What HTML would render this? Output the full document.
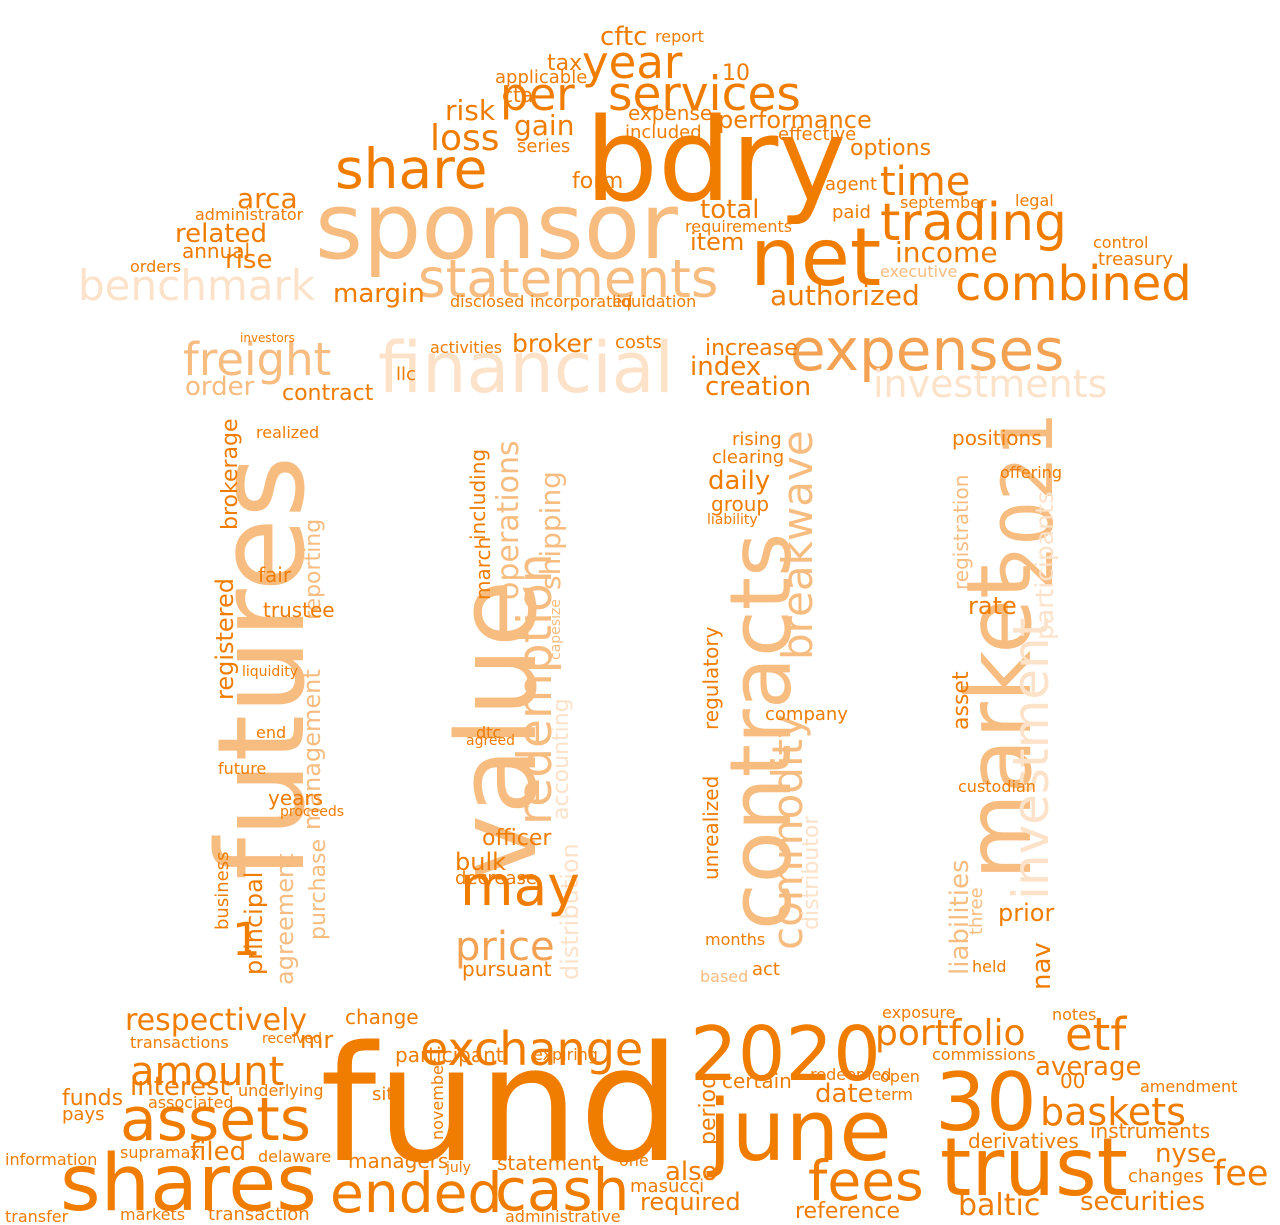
<!DOCTYPE html>
<html><head><meta charset="utf-8"><style>
html,body{margin:0;padding:0;background:#fff;}
svg{display:block;}
text{font-family:"DejaVu Sans","Liberation Sans",sans-serif;}
</style></head><body>
<svg id="cloud" width="1280" height="1225" viewBox="0 0 1280 1225" xmlns="http://www.w3.org/2000/svg"></svg>
<script>
const D="#f07c00",M="#f3a254",L="#f7bc80",V="#fde2ca";
// word, x, baseline y, font size, color, rotated(1 = vertical bottom-up)
const words=[
["bdry",585,200,115,D,0],["sponsor",315,258,92,L,0],["net",750,285,80,D,0],["statements",418,297,53,L,0],
["benchmark",78,300,42,V,0],["combined",955,300,48,D,0],["trading",880,240,52,D,0],["share",335,188,55,D,0],
["services",608,110,47,D,0],["per",500,110,45,D,0],["year",582,78,45,D,0],["loss",430,150,36,D,0],
["time",880,195,40,D,0],["expenses",790,370,58,M,0],["financial",378,392,70,V,0],["freight",183,375,45,L,0],
["investments",873,397,38,V,0],["authorized",770,305,28,D,0],["income",895,262,28,D,0],["performance",718,128,24,D,0],
["total",700,218,26,D,0],["related",175,242,26,D,0],["arca",237,208,28,D,0],["rise",225,268,26,D,0],
["margin",333,302,26,D,0],["risk",445,120,28,D,0],["gain",514,135,28,D,0],["broker",512,352,25,D,0],
["index",690,375,26,D,0],["creation",705,395,26,D,0],["order",185,395,26,L,0],["contract",282,400,22,D,0],
["increase",705,355,22,D,0],["cftc",600,45,26,D,0],["tax",547,70,22,D,0],["10",722,80,22,D,0],
["expense",628,120,20,D,0],["options",850,155,22,D,0],["agent",825,190,18,D,0],["item",690,250,24,D,0],
["annual",182,258,20,D,0],["orders",130,272,16,D,0],["administrator",195,220,16,D,0],["treasury",1098,265,18,D,0],
["executive",880,277,16,L,0],["liquidation",612,307,16,D,0],["incorporated",530,307,16,D,0],["disclosed",450,307,16,D,0],
["form",572,188,22,D,0],["series",517,152,18,D,0],["cta",502,102,20,D,0],["applicable",495,83,18,D,0],
["report",655,42,16,D,0],["effective",778,140,18,D,0],["included",625,138,18,D,0],["paid",832,218,18,D,0],
["september",900,208,16,D,0],["requirements",685,232,16,D,0],["legal",1015,206,16,D,0],["control",1093,248,16,D,0],
["investors",240,342,12,D,0],["llc",396,380,18,D,0],["costs",615,348,18,D,0],["activities",430,353,16,D,0],
["futures",303,880,120,L,1],["value",535,880,110,L,1],["redemption",551,825,47,L,1],["contracts",790,930,85,L,1],
["breakwave",812,660,42,L,1],["commodity",802,950,42,L,1],["market",1030,880,89,L,1],["2021",1052,590,70,L,1],
["investment",1048,900,50,V,1],["participants",1053,640,25,V,1],["management",320,830,24,L,1],["agreement",293,985,24,L,1],
["principal",262,975,24,D,1],["registered",233,700,24,D,1],["trustee",250,620,0,D,1],["purchase",325,940,22,L,1],
["reporting",320,620,22,L,1],["brokerage",237,530,22,D,1],["operations",518,600,30,L,1],["shipping",560,590,28,L,1],
["accounting",568,820,22,V,1],["distribution",578,980,24,V,1],["including",485,540,20,D,1],["march",490,600,20,D,1],
["unrealized",718,880,20,D,1],["regulatory",718,730,20,D,1],["distributor",818,930,22,V,1],["liabilities",968,975,26,L,1],
["registration",968,590,20,L,1],["asset",968,730,22,D,1],["nav",1050,990,26,D,1],["three",982,935,18,L,1],
["business",228,930,18,D,1],["capesize",560,660,14,L,1],
["may",460,905,55,D,0],["price",455,960,40,M,0],["1",232,955,45,D,0],["positions",952,445,20,D,0],
["realized",256,438,16,D,0],["fair",258,582,20,D,0],["trustee",263,617,20,D,0],["liquidity",242,676,14,D,0],
["end",256,738,16,D,0],["future",218,774,16,D,0],["years",268,805,20,D,0],["proceeds",280,816,14,D,0],
["daily",708,489,26,D,0],["group",711,511,20,D,0],["clearing",712,463,18,D,0],["rising",732,445,18,D,0],
["liability",707,524,14,D,0],["rate",968,614,24,D,0],["company",765,720,18,D,0],["months",705,945,16,D,0],
["act",752,975,18,D,0],["based",700,982,16,L,0],["prior",998,921,24,D,0],["custodian",958,792,16,D,0],
["officer",482,845,22,D,0],["bulk",455,870,24,D,0],["decrease",455,884,18,D,0],["pursuant",462,976,20,D,0],
["agreed",466,745,14,D,0],["dtc",476,738,16,D,0],["offering",1000,478,16,D,0],["held",972,972,16,D,0],
["fund",320,1160,160,D,0],["2020",690,1080,75,D,0],["30",935,1130,80,D,0],["june",708,1160,85,D,0],
["trust",940,1195,80,D,0],["shares",60,1210,78,D,0],["assets",120,1140,60,D,0],["ended",330,1212,55,D,0],
["cash",495,1210,58,D,0],["exchange",420,1065,46,D,0],["amount",130,1085,40,D,0],["respectively",125,1030,30,D,0],
["fees",808,1200,55,D,0],["portfolio",875,1045,36,D,0],["etf",1065,1050,45,D,0],["baskets",1040,1125,38,D,0],
["interest",130,1095,26,D,0],["funds",62,1105,22,D,0],["filed",190,1160,26,D,0],["fee",1213,1185,35,D,0],
["securities",1080,1210,26,D,0],["baltic",958,1215,30,D,0],["average",1035,1075,26,D,0],["reference",795,1218,22,D,0],
["required",640,1210,24,D,0],["also",665,1180,26,D,0],["date",815,1102,26,D,0],["nyse",1155,1162,26,D,0],
["change",345,1024,20,D,0],["mr",300,1048,24,D,0],["participant",395,1062,20,D,0],["statement",497,1170,20,D,0],
["managers",348,1168,20,D,0],["delaware",258,1162,16,D,0],["transaction",208,1220,18,D,0],["markets",120,1220,16,D,0],
["administrative",505,1222,16,D,0],["masucci",630,1192,18,D,0],["derivatives",968,1148,20,D,0],["instruments",1090,1138,20,D,0],
["certain",722,1088,20,D,0],["redeemed",810,1080,16,D,0],["expiring",533,1060,16,D,0],["transactions",130,1048,16,D,0],
["received",262,1043,14,D,0],["associated",148,1108,16,D,0],["pays",62,1120,18,D,0],["information",5,1165,16,D,0],
["transfer",5,1222,16,D,0],["supramax",120,1158,16,D,0],["commissions",932,1060,16,D,0],["amendment",1140,1092,16,D,0],
["changes",1128,1182,18,D,0],["exposure",882,1018,16,D,0],["open",880,1082,16,D,0],["term",875,1100,16,D,0],
["notes",1052,1020,16,D,0],["00",1060,1088,20,D,0],["underlying",238,1096,16,D,0],["sit",372,1100,18,D,0],
["november",443,1140,16,D,1],["period",715,1145,22,D,1],["july",446,1172,14,D,0],["one",619,1166,16,D,0]
];
const svg=document.getElementById('cloud');
const NS="http://www.w3.org/2000/svg";
for(const w of words){
  if(!w[3])continue;
  const t=document.createElementNS(NS,'text');
  
  
  t.setAttribute('x',w[1]);t.setAttribute('y',w[2]);
  t.setAttribute('font-size',w[3]);t.setAttribute('fill',w[4]);
  if(w[5])t.setAttribute('transform','rotate(-90 '+w[1]+' '+w[2]+')');
  t.textContent=w[0];
  svg.appendChild(t);
}
</script>
</body></html>
